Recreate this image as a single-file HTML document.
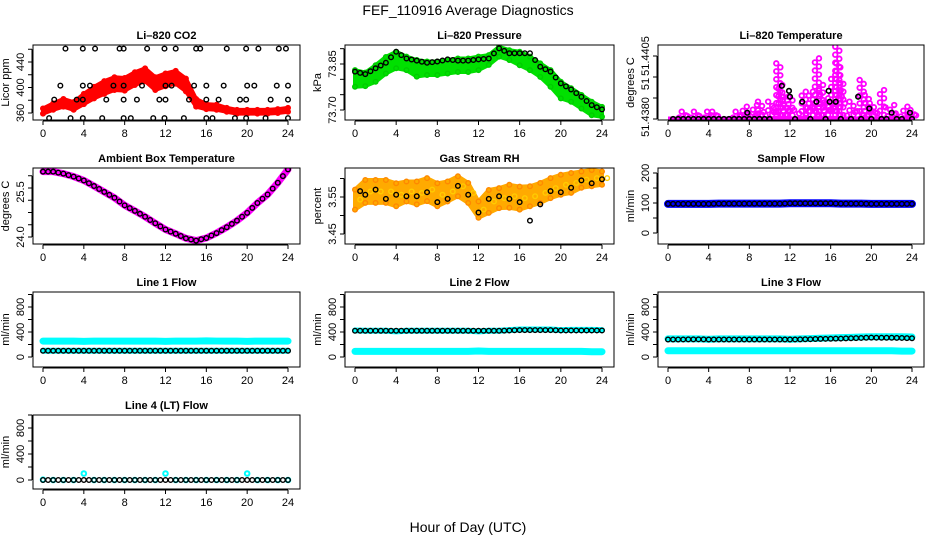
<!DOCTYPE html>
<html><head><meta charset="utf-8"><style>
html,body{margin:0;padding:0;background:#fff;}
svg{display:block;font-family:"Liberation Sans",Arial,sans-serif;}
</style></head><body>
<svg id="fig" width="936" height="540" viewBox="0 0 936 540" xmlns="http://www.w3.org/2000/svg">
<rect x="0" y="0" width="936" height="540" fill="#fff"/>
<text x="468" y="15" text-anchor="middle" font-size="14">FEF_110916  Average Diagnostics</text>
<text x="468" y="532" text-anchor="middle" font-size="14">Hour of Day (UTC)</text>
</svg>
<script>
// ---------- data ----------
const hours = [0,1,2,3,4,5,6,7,8,9,10,11,12,13,14,15,16,17,18,19,20,21,22,23,24];
const xTicks = [0,4,8,12,16,20,24];
// CO2
const co2Center = [363,370,376,371,382,392,400,406,405,414,420,406,412,416,404,376,370,369,365,362,362,362,362,363,365];
const co2Half = [4,5,6,6,8,9,10,10,10,10,10,10,10,10,10,6,4,4,3,3,3,3,3,3,3];
const co2H461 = [2.2,3.9,5.1,7.5,7.9,10.2,11.9,13,15,15.4,18,19.9,21.1,23.1,23.8];
const co2H403 = [1.7,3.9,4.6,6.9,7.9,9.7,12,12.6,14.8,16,17.7,20,20.7,22.9,24];
const co2H381 = [1.1,3.3,3.9,6.2,7.9,9.2,11.4,12,14.3,16,17.2,19.3,19.9,22.3,24];
const co2H352 = [0.6,2.7,3.9,5.8,7.9,8.6,10.8,11.9,13.8,16,16.6,18.8,19.9,21.8,24];
// Pressure
const presCenter = [73.803,73.800,73.819,73.846,73.863,73.852,73.836,73.836,73.836,73.841,73.846,73.846,73.852,73.863,73.890,73.879,73.868,73.852,73.830,73.803,73.765,73.749,73.727,73.705,73.694];
const presHalf = [0.027,0.022,0.027,0.027,0.027,0.022,0.027,0.022,0.022,0.022,0.022,0.022,0.022,0.016,0.016,0.016,0.022,0.022,0.022,0.027,0.027,0.022,0.022,0.022,0.016];
const presBlack = [73.825,73.817,73.836,73.854,73.890,73.868,73.861,73.854,73.858,73.865,73.861,73.861,73.865,73.868,73.901,73.885,73.885,73.885,73.841,73.825,73.787,73.767,73.743,73.716,73.702];
// Li-820 temperature
const tempBase = 51.4380;
const tempSpikeH = [1.5,2.7,4,4.5,6.8,7.5,8.5,9,10,10.8,11,11.5,12,13.3,14,14.6,15,15.5,16.2,16.6,16.7,17,18,19,19.5,20,21,22,23.3,24];
const tempSpikeV = [51.438175,51.438175,51.438175,51.438175,51.438175,51.438294,51.438333,51.438413,51.438413,51.439325,51.43881,51.438532,51.438532,51.43865,51.43865,51.439444,51.43881,51.438492,51.439048,51.439722,51.439325,51.438929,51.438413,51.438929,51.438571,51.438373,51.43869,51.438333,51.438294,51.438214];
const tempBlackH = [0.5,1,1.5,2,2.5,3,3.5,4,4.5,5,5.5,6,6.5,7,7.5,7.8,8,8.5,9,9.5,10,11.2,11.9,12,12.5,13.2,14,14.6,15.5,15.8,15.9,16.5,17,18,18.7,19,19.8,20,21,21.5,22,22.5,23,23.8,24];
const tempBlackV = [51.438,51.438,51.438,51.438,51.438,51.438,51.438,51.438,51.438,51.438,51.438,51.438,51.438,51.438,51.438,51.43815,51.438,51.438,51.438,51.438,51.438,51.43879,51.43867,51.43853,51.438,51.43841,51.438,51.43841,51.438,51.43867,51.43841,51.43841,51.438,51.438,51.43853,51.438,51.43825,51.438,51.438,51.438,51.43815,51.438,51.438,51.43815,51.438];
// Ambient box temperature
const ambient = [26.0,26.0,25.94,25.85,25.73,25.56,25.38,25.2,24.97,24.8,24.62,24.42,24.23,24.1,23.96,23.89,23.97,24.12,24.3,24.5,24.74,25.04,25.3,25.66,26.07];
// Gas stream RH
const rhCenter = [3.543,3.565,3.565,3.565,3.556,3.565,3.561,3.570,3.556,3.565,3.579,3.561,3.516,3.538,3.547,3.552,3.547,3.552,3.561,3.574,3.583,3.588,3.597,3.601,3.601];
const rhHalf = [0.027,0.031,0.031,0.031,0.031,0.027,0.031,0.031,0.031,0.027,0.027,0.027,0.022,0.031,0.027,0.031,0.031,0.027,0.027,0.027,0.027,0.027,0.022,0.022,0.018];
const rhBlack = [3.566,3.556,3.570,3.545,3.556,3.552,3.552,3.563,3.536,3.545,3.580,3.556,3.508,3.545,3.552,3.545,3.536,3.486,3.530,3.566,3.563,3.575,3.595,3.587,3.598];
// Flows
const sampleFlow = [97,97,97,97,97,98,98,98,98,98,98,98,99,99,99,99,99,98,98,98,97,97,97,97,97];
const line1Cyan = [255,255,255,255,250,255,255,255,255,255,255,255,250,255,255,255,258,255,255,255,250,255,255,255,255];
const line1Low = [100,100,100,100,100,100,100,100,100,100,100,100,100,100,100,100,100,100,100,100,100,100,100,100,100];
const line2Cyan = [425,420,420,420,410,420,420,420,420,420,420,420,410,420,420,430,440,440,440,440,430,435,435,435,430];
const line2Low = [90,90,90,90,90,90,90,90,90,90,90,90,95,90,90,90,90,90,90,90,90,90,90,85,85];
const line2Black = [420,420,420,420,420,420,420,420,420,420,420,420,420,420,420,425,430,430,430,430,425,425,425,425,425];
const line3Cyan = [290,290,290,290,285,290,290,290,290,290,290,290,285,290,295,300,305,310,315,320,325,325,325,325,320];
const line3Low = [100,100,100,100,100,100,100,100,100,100,100,100,100,100,100,100,100,100,100,100,100,100,100,95,95];
const line3Black = [280,280,282,283,280,280,280,280,280,280,280,280,280,282,285,290,292,295,300,305,310,308,308,305,300];
const line4Cyan = [5,0,0,0,100,0,0,0,0,0,0,0,100,0,0,0,0,0,0,0,100,0,0,0,0];
const line4Black = [0,0,0,0,0,0,0,0,0,0,0,0,0,0,0,0,0,0,0,0,0,0,0,0,0];

// ---------- layout ----------
const NS = "http://www.w3.org/2000/svg";
const svg = document.getElementById('fig');
const colX0 = [43,355,668], colX24 = [288,602,912];
const rowTop = [45,168,292,415], rowBot = [120,244,367,489];

function mk(tag, attrs, parent){
  const e = document.createElementNS(NS, tag);
  for (const k in attrs) e.setAttribute(k, attrs[k]);
  (parent||svg).appendChild(e);
  return e;
}
function panel(opt){
  const c = opt.col, r = opt.row;
  const x0 = colX0[c], x1 = colX24[c];
  const L = x0-10, R = x1+12, T = rowTop[r], B = rowBot[r];
  const g = mk('g', {});
  
  
  const xs = h => x0 + (x1-x0)*h/24;
  const [v1,y1,v2,y2] = opt.yref;
  const ys = v => y1 + (v-v1)*(y2-y1)/(v2-v1);
  const clipId = 'clip-'+opt.name;
  const cp = mk('clipPath', {id: clipId}, g);
  mk('rect', {x:L, y:T, width:R-L, height:B-T}, cp);
  const data = mk('g', {'clip-path':'url(#'+clipId+')'}, g);
  
  
  opt.draw(data, xs, ys);
  const box = mk('rect', {x:L, y:T, width:R-L, height:B-T, fill:'none', stroke:'#000', 'stroke-width':1}, g);
  
  
  const title = mk('text', {x:(L+R)/2, y:T-6, 'text-anchor':'middle', 'font-size':11, 'font-weight':'bold'}, g);
  title.textContent = opt.title;
  
  
  const xa = mk('g', {}, g);
  
  
  mk('line', {x1:xs(0), x2:xs(24), y1:B+1, y2:B+1, stroke:'#000'}, xa);
  xTicks.forEach(t=>{
    mk('line', {x1:xs(t), x2:xs(t), y1:B+1, y2:B+5, stroke:'#000'}, xa);
    const tx = mk('text', {x:xs(t), y:B+17, 'text-anchor':'middle', 'font-size':11}, xa);
    tx.textContent = t;
  });
  const ya = mk('g', {}, g);
  
  
  const tv = opt.yticks;
  mk('line', {x1:L-1, x2:L-1, y1:ys(tv[0]), y2:ys(tv[tv.length-1]), stroke:'#000'}, ya);
  tv.forEach(t=>{ mk('line', {x1:L-5, x2:L-1, y1:ys(t), y2:ys(t), stroke:'#000'}, ya); });
  opt.ylabels.forEach(([txt,yy])=>{
    const ty = (typeof yy === 'number') ? ys(yy) : yy.px;
    const e = mk('text', {x:0, y:0, 'text-anchor':'middle', 'font-size':11, transform:'translate('+(L-9)+','+ty+') rotate(-90)'}, ya);
    e.textContent = txt;
  });
  const yt = mk('text', {x:0, y:0, 'text-anchor':'middle', 'font-size':11, transform:'translate('+(L-24)+','+((T+B)/2)+') rotate(-90)'}, g);
  yt.textContent = opt.ytitle;
  
  
}
function circ(parent, x, y, color, sw){
  const e = mk('circle', {cx:x, cy:y, r:2.3, fill:'none', stroke:color, 'stroke-width':sw||1.4}, parent);
  
  
  return e;
}
function band(parent, xs, ys, center, half, color){
  let up = [], lo = [];
  hours.forEach((h,i)=>{ up.push(xs(h)+','+ys(center[i]+half[i])); lo.unshift(xs(h)+','+ys(center[i]-half[i])); });
  const p = mk('polygon', {points: up.concat(lo).join(' '), fill: color, stroke: color, 'stroke-width':4, 'stroke-linejoin':'round'}, parent);
  
  
}
function line(parent, xs, ys, vals, color, w){
  const p = mk('polyline', {points: hours.map((h,i)=>xs(h)+','+ys(vals[i])).join(' '), fill:'none', stroke:color, 'stroke-width':w, 'stroke-linecap':'round'}, parent);
  
  
}
function pts(parent, xs, ys, vals, color, step){
  hours.forEach((h,i)=>{
    circ(parent, xs(h), ys(vals[i]), color);
    if (i < hours.length-1){
      for (let k=1;k<step;k++){
        const f=k/step;
        circ(parent, xs(h+f), ys(vals[i]+(vals[i+1]-vals[i])*f), color);
      }
    }
  });
}

panel({name:'co2-panel', col:0, row:0, title:'Li\u2013820 CO2', ytitle:'Licor ppm',
  yref:[360,113,440,62], yticks:[360,380,400,420,440,460], ylabels:[['360',360],['400',400],['440',440]],
  draw:(g,xs,ys)=>{
    band(g,xs,ys,co2Center,co2Half,'#f00');
    hours.forEach((h,i)=>{ circ(g,xs(h),ys(co2Center[i]+co2Half[i]),'#f00'); circ(g,xs(h),ys(co2Center[i]-co2Half[i]),'#f00'); });
    [[co2H461,461],[co2H403,403],[co2H381,381],[co2H352,352]].forEach(([arr,v])=>arr.forEach(h=>circ(g,xs(h),ys(v),'#000')));
  }});
panel({name:'pressure-panel', col:1, row:0, title:'Li\u2013820 Pressure', ytitle:'kPa',
  yref:[73.70,110,73.85,64], yticks:[73.70,73.75,73.80,73.85,73.90], ylabels:[['73.70',73.70],['73.85',73.85]],
  draw:(g,xs,ys)=>{
    band(g,xs,ys,presCenter,presHalf,'#00e000');
    hours.forEach((h,i)=>{ circ(g,xs(h),ys(presCenter[i]+presHalf[i]),'#00cc00'); circ(g,xs(h),ys(presCenter[i]-presHalf[i]),'#00cc00'); });
    pts(g,xs,ys,presBlack,'#000',2);
  }});
panel({name:'temperature-panel', col:2, row:0, title:'Li\u2013820 Temperature', ytitle:'degrees C',
  yref:[51.4380,119,51.4395,56], yticks:[51.4380,51.4385,51.4390,51.4395],
  ylabels:[['51.4380',{px:117}],['51',{px:84}],['51.4405',{px:56}]],
  draw:(g,xs,ys)=>{
    mk('line',{x1:xs(0),x2:xs(24),y1:ys(tempBase),y2:ys(tempBase),stroke:'#f0f','stroke-width':5},g);
    tempSpikeH.forEach((h,i)=>{
      const top = tempSpikeV[i];
      const n = Math.max(1,Math.round((ys(tempBase)-ys(top))/4));
      for (let k=0;k<=n;k++){
        const v = tempBase+(top-tempBase)*k/n;
        circ(g,xs(h+((k%2)?0.25:-0.15)),ys(v),'#f0f',1.8);
      }
      circ(g,xs(h+0.4),ys(tempBase+(top-tempBase)*0.4),'#f0f',1.8);
      circ(g,xs(h-0.4),ys(tempBase+(top-tempBase)*0.2),'#f0f',1.8);
    });
    tempBlackH.forEach((h,i)=>circ(g,xs(h),ys(tempBlackV[i]),'#000',1.6));
  }});
panel({name:'ambient-temperature-panel', col:0, row:1, title:'Ambient Box Temperature', ytitle:'degrees C',
  yref:[24,237,25.5,188], yticks:[24,24.375,24.75,25.125,25.5,25.875], ylabels:[['24.0',24],['25.5',{px:192}]],
  draw:(g,xs,ys)=>{
    line(g,xs,ys,ambient,'#f0f',7);
    pts(g,xs,ys,ambient,'#000',2);
  }});
panel({name:'gas-rh-panel', col:1, row:1, title:'Gas Stream RH', ytitle:'percent',
  yref:[3.45,234,3.55,197], yticks:[3.45,3.50,3.55,3.60], ylabels:[['3.45',3.45],['3.55',3.55]],
  draw:(g,xs,ys)=>{
    band(g,xs,ys,rhCenter,rhHalf,'#ffaa00');
    hours.forEach((h,i)=>{ circ(g,xs(h),ys(rhCenter[i]+rhHalf[i]),'#ff8800'); circ(g,xs(h),ys(rhCenter[i]-rhHalf[i]),'#ff8800'); circ(g,xs(h+0.5),ys(rhCenter[i]),'#ffcc00'); });
    hours.forEach((h,i)=>circ(g,xs(Math.max(0.5,h)),ys(rhBlack[i]),'#000'));
  }});
panel({name:'sample-flow-panel', col:2, row:1, title:'Sample Flow', ytitle:'ml/min',
  yref:[0,233,100,203], yticks:[0,50,100,150,200], ylabels:[['0',0],['100',100],['200',200]],
  draw:(g,xs,ys)=>{
    line(g,xs,ys,sampleFlow,'#0000ff',8);
    pts(g,xs,ys,sampleFlow,'#000',2);
  }});
const flowTicks=[0,200,400,600,800,1000];
const flowLabels=[['0',0],['400',400],['800',800]];
panel({name:'line1-flow-panel', col:0, row:2, title:'Line 1 Flow', ytitle:'ml/min',
  yref:[0,357,400,332], yticks:flowTicks, ylabels:flowLabels,
  draw:(g,xs,ys)=>{
    line(g,xs,ys,line1Cyan,'#00ffff',7);
    line(g,xs,ys,line1Low,'#00ffff',6);
    pts(g,xs,ys,line1Low,'#000',2);
  }});
panel({name:'line2-flow-panel', col:1, row:2, title:'Line 2 Flow', ytitle:'ml/min',
  yref:[0,357,400,332], yticks:flowTicks, ylabels:flowLabels,
  draw:(g,xs,ys)=>{
    line(g,xs,ys,line2Cyan,'#00ffff',6);
    line(g,xs,ys,line2Low,'#00ffff',7);
    pts(g,xs,ys,line2Black,'#000',2);
  }});
panel({name:'line3-flow-panel', col:2, row:2, title:'Line 3 Flow', ytitle:'ml/min',
  yref:[0,357,400,332], yticks:flowTicks, ylabels:flowLabels,
  draw:(g,xs,ys)=>{
    line(g,xs,ys,line3Cyan,'#00ffff',7);
    line(g,xs,ys,line3Low,'#00ffff',7);
    pts(g,xs,ys,line3Black,'#000',2);
  }});
panel({name:'line4-flow-panel', col:0, row:3, title:'Line 4 (LT) Flow', ytitle:'ml/min',
  yref:[0,480,400,454], yticks:flowTicks, ylabels:flowLabels,
  draw:(g,xs,ys)=>{
    hours.forEach((h,i)=>circ(g,xs(h),ys(line4Cyan[i]),'#00ffff',2));
    pts(g,xs,ys,line4Black,'#000',2);
  }});
</script>
</body></html>
